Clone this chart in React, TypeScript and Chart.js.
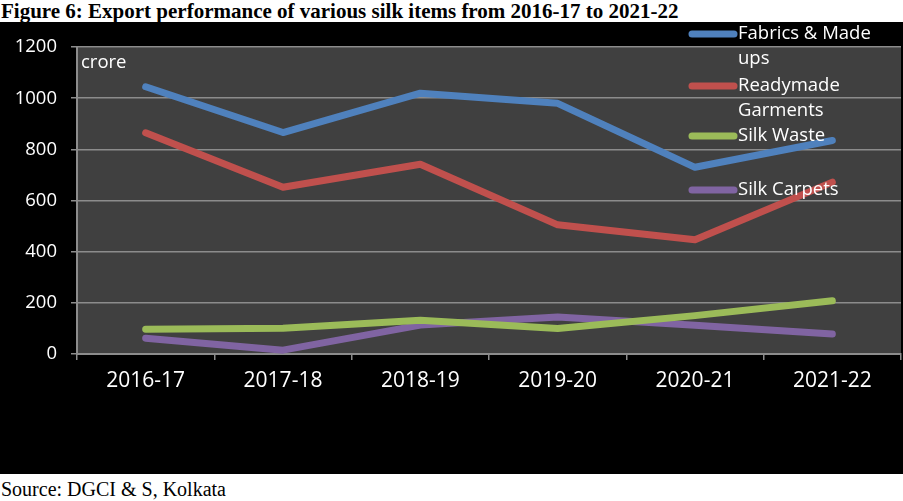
import React, { useEffect, useRef } from "react";
import { Chart, registerables } from "chart.js";

Chart.register(...registerables);

const categories = ["2016-17", "2017-18", "2018-19", "2019-20", "2020-21", "2021-22"];
const fabricsMadeUps = [1045, 866, 1020, 980, 730, 835];
const readymadeGarments = [865, 652, 742, 505, 447, 672];
const silkWaste = [97, 101, 132, 100, 150, 208];
const silkCarpets = [62, 15, 113, 145, 112, 78];
const yTicks = [0, 200, 400, 600, 800, 1000, 1200];

const seriesNames = ["Fabrics & Made ups", "Readymade Garments", "Silk Waste", "Silk Carpets"];
const legendLines = [["Fabrics & Made", "ups"], ["Readymade", "Garments"], ["Silk Waste"], ["Silk Carpets"]];
const colors = ["#4f81bd", "#c0504d", "#9bbb59", "#8064a2"];
const FONT = '"Open Sans", "Noto Sans", sans-serif';

export default function App() {
  const ref = useRef<HTMLCanvasElement | null>(null);

  useEffect(() => {
    if (!ref.current) return;
    const bgPlugin = {
      id: "bg",
      beforeDraw(chart: any) {
        const { ctx, chartArea } = chart;
        ctx.save();
        ctx.fillStyle = "#000000";
        ctx.fillRect(0, 0, chart.width, chart.height);
        ctx.fillStyle = "#404040";
        ctx.fillRect(chartArea.left, chartArea.top, chartArea.right - chartArea.left, chartArea.bottom - chartArea.top);
        ctx.restore();
      },
      afterDatasetsDraw(chart: any) {
        const { ctx, chartArea } = chart;
        ctx.save();
        ctx.fillStyle = "#ffffff";
        ctx.font = `18.5px ${FONT}`;
        ctx.textBaseline = "middle";
        ctx.textAlign = "left";
        ctx.fillText("crore", chartArea.left + 4, chartArea.top + 16);
        const lineX0 = 692;
        const lineX1 = 734;
        const textX = 738;
        const starts = [12, 64, 114, 168];
        const lh = 25;
        legendLines.forEach((lines, i) => {
          const y = starts[i];
          ctx.strokeStyle = colors[i];
          ctx.lineWidth = 7;
          ctx.lineCap = "round";
          ctx.beginPath();
          ctx.moveTo(lineX0, y);
          ctx.lineTo(lineX1, y);
          ctx.stroke();
          lines.forEach((t, j) => {
            ctx.fillText(t, textX, y + j * lh);
          });
        });
        ctx.restore();
      },
    };

    const mk = (label: string, data: number[], color: string) => ({
      label,
      data,
      borderColor: color,
      backgroundColor: color,
      borderWidth: 7,
      pointRadius: 0,
      borderCapStyle: "round" as const,
      borderJoinStyle: "round" as const,
      tension: 0,
      fill: false,
    });

    const chart = new Chart(ref.current, {
      type: "line",
      data: {
        labels: categories,
        datasets: [
          mk(seriesNames[0], fabricsMadeUps, colors[0]),
          mk(seriesNames[1], readymadeGarments, colors[1]),
          mk(seriesNames[2], silkWaste, colors[2]),
          mk(seriesNames[3], silkCarpets, colors[3]),
        ],
      },
      options: {
        responsive: false,
        animation: false,
        devicePixelRatio: 1,
        layout: { padding: { top: 24, right: 2, left: 0, bottom: 0 } },
        plugins: { legend: { display: false }, tooltip: { enabled: false }, title: { display: false } },
        scales: {
          x: {
            offset: true,
            afterFit: (s: any) => { s.height = 120; },
            grid: { offset: true, drawOnChartArea: false, drawTicks: true, tickLength: 6, color: "#8c8c8c", lineWidth: 1.5 },
            border: { color: "#8c8c8c", width: 2 },
            ticks: { color: "#ffffff", font: { family: FONT, size: 21 }, padding: 8, maxRotation: 0 },
          },
          y: {
            min: 0,
            max: 1200,
            afterFit: (s: any) => { s.width = 77; },
            afterBuildTicks: (s: any) => { s.ticks = yTicks.map((v) => ({ value: v })); },
            grid: { color: "#8c8c8c", lineWidth: 1.5, tickLength: 6 },
            border: { color: "#8c8c8c", width: 2 },
            ticks: { color: "#ffffff", font: { family: FONT, size: 18.5 }, padding: 14, callback: (v: any) => String(v) },
          },
        },
      },
      plugins: [bgPlugin],
    });
    return () => chart.destroy();
  }, []);

  return (
    <div style={{ position: "absolute", left: 0, top: 0, width: 903, height: 501, background: "#ffffff", overflow: "hidden" }}>
      <div style={{ position: "absolute", left: 1, top: 0, font: 'bold 21px "Liberation Serif", serif', lineHeight: "22px", color: "#000", whiteSpace: "nowrap" }}>
        Figure 6: Export performance of various silk items from 2016-17 to 2021-22
      </div>
      <canvas ref={ref} width={903} height={452} style={{ position: "absolute", left: 0, top: 22, width: 903, height: 452 }} />
      <div style={{ position: "absolute", left: 1, top: 476, font: '20px "Liberation Serif", serif', lineHeight: "26px", color: "#000", whiteSpace: "nowrap" }}>
        Source: DGCI &amp; S, Kolkata
      </div>
    </div>
  );
}
